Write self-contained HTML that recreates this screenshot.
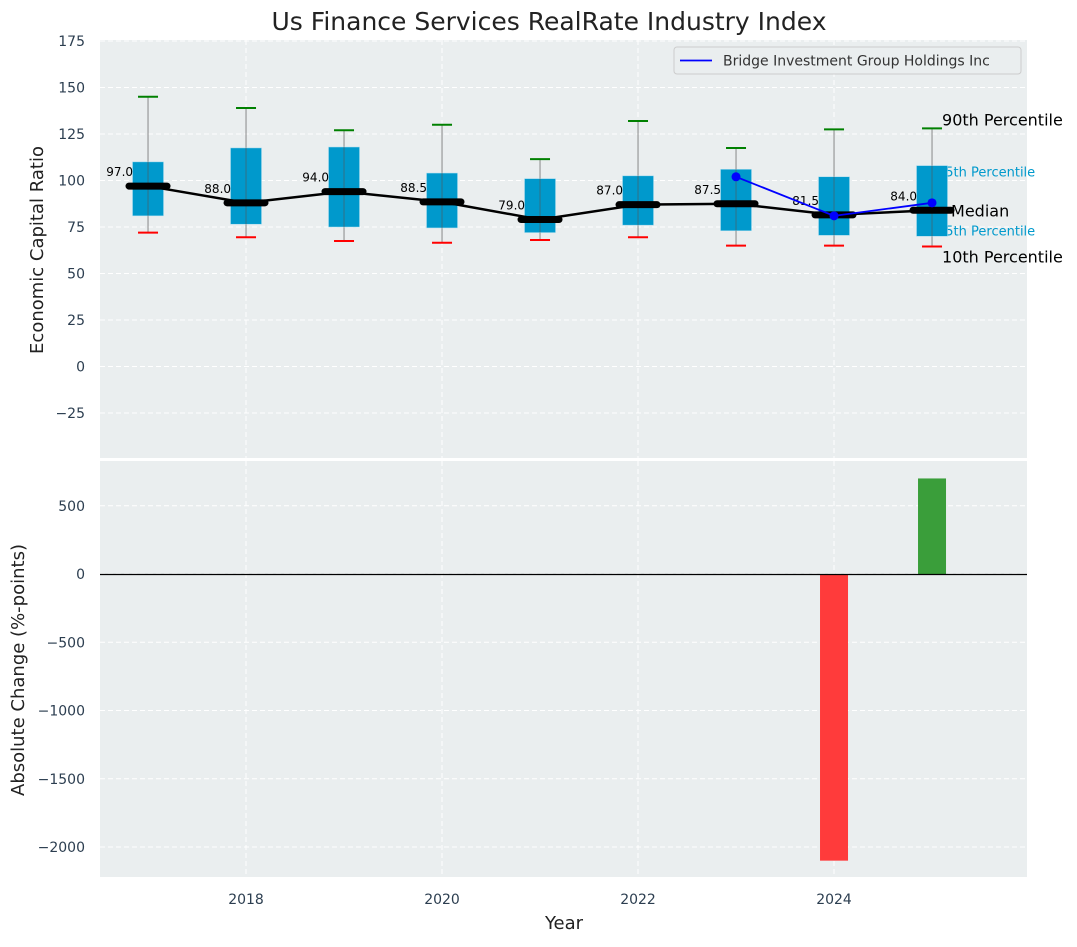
<!DOCTYPE html>
<html><head><meta charset="utf-8"><style>
body{margin:0;background:#fff;font-family:"Liberation Sans","DejaVu Sans",sans-serif}
svg text{font-family:"DejaVu Sans","Liberation Sans",sans-serif}
</style></head><body>
<svg id="chart" width="1077" height="942" xmlns="http://www.w3.org/2000/svg"></svg>
<script>
const years=[2017,2018,2019,2020,2021,2022,2023,2024,2025];
const p90=[145,139,127,130,111.5,132,117.5,127.5,128];
const p75=[110,117.5,118,104,101,102.5,106,102,108];
const medians=[97,88,94,88.5,79,87,87.5,81.5,84];
const p25=[81,76.5,75,74.5,72,76,73,70.5,70];
const p10=[72,69.5,67.5,66.5,68,69.5,65,65,64.5];
const companyYears=[2023,2024,2025];
const companyVals=[102,81,88];
const changeYears=[2024,2025];
const changeVals=[-2100,700];
const topTicks=[175,150,125,100,75,50,25,0,-25];
const botTicks=[500,0,-500,-1000,-1500,-2000];
const xTicks=[2018,2020,2022,2024];

const NS="http://www.w3.org/2000/svg";
const svg=document.getElementById('chart');
function el(tag,attrs,parent){const e=document.createElementNS(NS,tag);for(const k in attrs)e.setAttribute(k,attrs[k]);(parent||svg).appendChild(e);return e;}
const L=100,R=1027;
const x=v=>L+(v-2016.51)*98;
const yT=v=>366.5-v*1.86;
const yB=v=>574-v*0.1365;

let e=el('rect',{x:L,y:40,width:R-L,height:418,fill:'#eaeeef'});

e=el('rect',{x:L,y:461,width:R-L,height:416,fill:'#eaeeef'});


xTicks.forEach(t=>{
  e=el('line',{x1:x(t),x2:x(t),y1:40,y2:458,stroke:'#fff','stroke-dasharray':'5,3','stroke-width':1});
  
  e=el('line',{x1:x(t),x2:x(t),y1:461,y2:877,stroke:'#fff','stroke-dasharray':'5,3','stroke-width':1});
  
  e=el('text',{x:x(t),y:904,'text-anchor':'middle','font-size':14,fill:'#2c3e50'});e.textContent=t;
  
});
topTicks.forEach(t=>{
  e=el('line',{x1:L,x2:R,y1:yT(t),y2:yT(t),stroke:'#fff','stroke-dasharray':'5,3'});
  
  e=el('text',{x:85,y:yT(t)+5,'text-anchor':'end','font-size':14,fill:'#2c3e50'});e.textContent=t<0?'\u2212'+(-t):t;
  
});
botTicks.forEach(t=>{
  e=el('line',{x1:L,x2:R,y1:yB(t),y2:yB(t),stroke:'#fff','stroke-dasharray':'5,3'});
  
  e=el('text',{x:85,y:yB(t)+5,'text-anchor':'end','font-size':14,fill:'#2c3e50'});e.textContent=t<0?'\u2212'+(-t):t;
  
});

// percentile annotations (drawn under boxes)
const li=8, ax=x(2025);
[['90th Percentile',p90[li],'#000',16,-3,ax+10],['75th Percentile',p75[li],'#0099cc',13,11,ax+5],['25th Percentile',p25[li],'#0099cc',13,-1,ax+5],['10th Percentile',p10[li],'#000',16,16,ax+10]].forEach(a=>{
  e=el('text',{x:a[5],y:yT(a[1])+a[4],'font-size':a[3],fill:a[2]});e.textContent=a[0];
  
});

years.forEach((yr,i)=>{
  const cx=x(yr);
  e=el('line',{x1:cx,x2:cx,y1:yT(p90[i]),y2:yT(p10[i]),stroke:'#888','stroke-width':1});
  
  e=el('rect',{x:cx-15.5,y:yT(p75[i]),width:31,height:yT(p25[i])-yT(p75[i]),fill:'#0099cc',stroke:'#a8dcef','stroke-width':0.5});
  
  e=el('line',{x1:cx,x2:cx,y1:yT(p75[i]),y2:yT(p25[i]),stroke:'#555','stroke-width':1,'stroke-opacity':0.6});
  
  e=el('line',{x1:cx-10,x2:cx+10,y1:yT(p90[i]),y2:yT(p90[i]),stroke:'green','stroke-width':2});
  
  e=el('line',{x1:cx-10,x2:cx+10,y1:yT(p10[i]),y2:yT(p10[i]),stroke:'red','stroke-width':2});
  
});
e=el('polyline',{points:years.map((yr,i)=>x(yr)+','+yT(medians[i])).join(' '),fill:'none',stroke:'#000','stroke-width':2.5});

years.forEach((yr,i)=>{
  const cx=x(yr);
  e=el('line',{x1:cx-19,x2:cx+19,y1:yT(medians[i]),y2:yT(medians[i]),stroke:'#000','stroke-width':7,'stroke-linecap':'round'});
  
  e=el('text',{x:cx-15,y:yT(medians[i])-10,'text-anchor':'end','font-size':12,fill:'#000'});e.textContent=medians[i].toFixed(1);
  
});
e=el('polyline',{points:companyYears.map((yr,i)=>x(yr)+','+yT(companyVals[i])).join(' '),fill:'none',stroke:'blue','stroke-width':1.8});

companyYears.forEach((yr,i)=>{
  e=el('circle',{cx:x(yr),cy:yT(companyVals[i]),r:4.5,fill:'blue'});
  
});
e=el('text',{x:ax+19,y:yT(medians[li])+6,'font-size':16,fill:'#000'});e.textContent='Median';


changeYears.forEach((yr,i)=>{
  const v=changeVals[i];
  e=el('rect',{x:x(yr)-14,y:Math.min(yB(v),yB(0)),width:28,height:Math.abs(yB(v)-yB(0)),fill:v<0?'#ff3b3b':'#3a9e3a'});
  
});
e=el('line',{x1:L,x2:R,y1:yB(0)+0.5,y2:yB(0)+0.5,stroke:'#000','stroke-width':1.2});


const lg=el('g',{});

el('rect',{x:674,y:47,width:347,height:27,rx:3,fill:'#eaeeef',stroke:'#ccc'},lg);
el('line',{x1:680,x2:712,y1:60.5,y2:60.5,stroke:'blue','stroke-width':1.8},lg);
e=el('text',{x:723,y:65.5,'font-size':14,fill:'#333'},lg);e.textContent='Bridge Investment Group Holdings Inc';

e=el('text',{x:549,y:30,'text-anchor':'middle','font-size':25,fill:'#222'});e.textContent='Us Finance Services RealRate Industry Index';

e=el('text',{x:564,y:929,'text-anchor':'middle','font-size':18,fill:'#222'});e.textContent='Year';

e=el('text',{x:0,y:0,'text-anchor':'middle','font-size':18,fill:'#222',transform:'translate(43,250) rotate(-90)'});e.textContent='Economic Capital Ratio';

e=el('text',{x:0,y:0,'text-anchor':'middle','font-size':18,fill:'#222',transform:'translate(24,670) rotate(-90)'});e.textContent='Absolute Change (%-points)';

</script>
</body></html>
